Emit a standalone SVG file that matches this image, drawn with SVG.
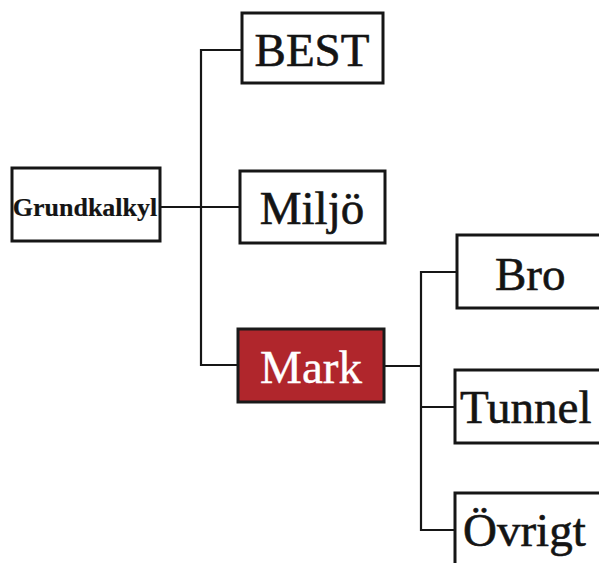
<svg xmlns="http://www.w3.org/2000/svg" width="599" height="563" viewBox="0 0 599 563">
  <style>
    .box { fill: #ffffff; stroke: #161616; stroke-width: 3; }
    .hot { fill: #b0262c; stroke: #1a1a1a; stroke-width: 3; }
    .lbl { font-family: "Liberation Serif", "Times New Roman", serif; font-size: 47px; fill: #141414; stroke: #141414; stroke-width: 0.6; }
    .lbl-w { fill: #ffffff; stroke: #ffffff; stroke-width: 0.4; }
    .small { font-size: 26px; font-weight: bold; stroke-width: 0.2; }
    .wire { fill: none; stroke: #161616; stroke-width: 2.2; }
  </style>
  <rect width="599" height="563" fill="#ffffff"/>

  <g id="connectors">
    <!-- root to first level -->
    <path class="wire" d="M160 207 H240"/>
    <path class="wire" d="M242 50 H201 V365 H238"/>
    <!-- Mark to its children -->
    <path class="wire" d="M384 366 H421"/>
    <path class="wire" d="M457 272 H421 V530 H455"/>
    <path class="wire" d="M421 407 H455"/>
  </g>

  <g id="grundkalkyl">
    <rect class="box" x="12" y="168" width="148" height="73"/>
    <text class="lbl small" x="85" y="216" text-anchor="middle">Grundkalkyl</text>
  </g>

  <g id="best">
    <rect class="box" x="242" y="13" width="141" height="70"/>
    <text class="lbl" x="312" y="66" text-anchor="middle">BEST</text>
  </g>

  <g id="miljo">
    <rect class="box" x="240" y="171" width="145" height="72"/>
    <text class="lbl" x="312" y="224" text-anchor="middle">Miljö</text>
  </g>

  <g id="mark">
    <rect class="hot" x="238" y="329" width="146" height="73"/>
    <text class="lbl lbl-w" x="311" y="383" text-anchor="middle">Mark</text>
  </g>

  <g id="bro">
    <rect class="box" x="457" y="235" width="170" height="73"/>
    <text class="lbl" x="495" y="290">Bro</text>
  </g>

  <g id="tunnel">
    <rect class="box" x="455" y="370" width="170" height="73"/>
    <text class="lbl" x="460" y="423">Tunnel</text>
  </g>

  <g id="ovrigt">
    <rect class="box" x="455" y="493" width="170" height="90"/>
    <text class="lbl" x="463" y="546">Övrigt</text>
  </g>
</svg>
